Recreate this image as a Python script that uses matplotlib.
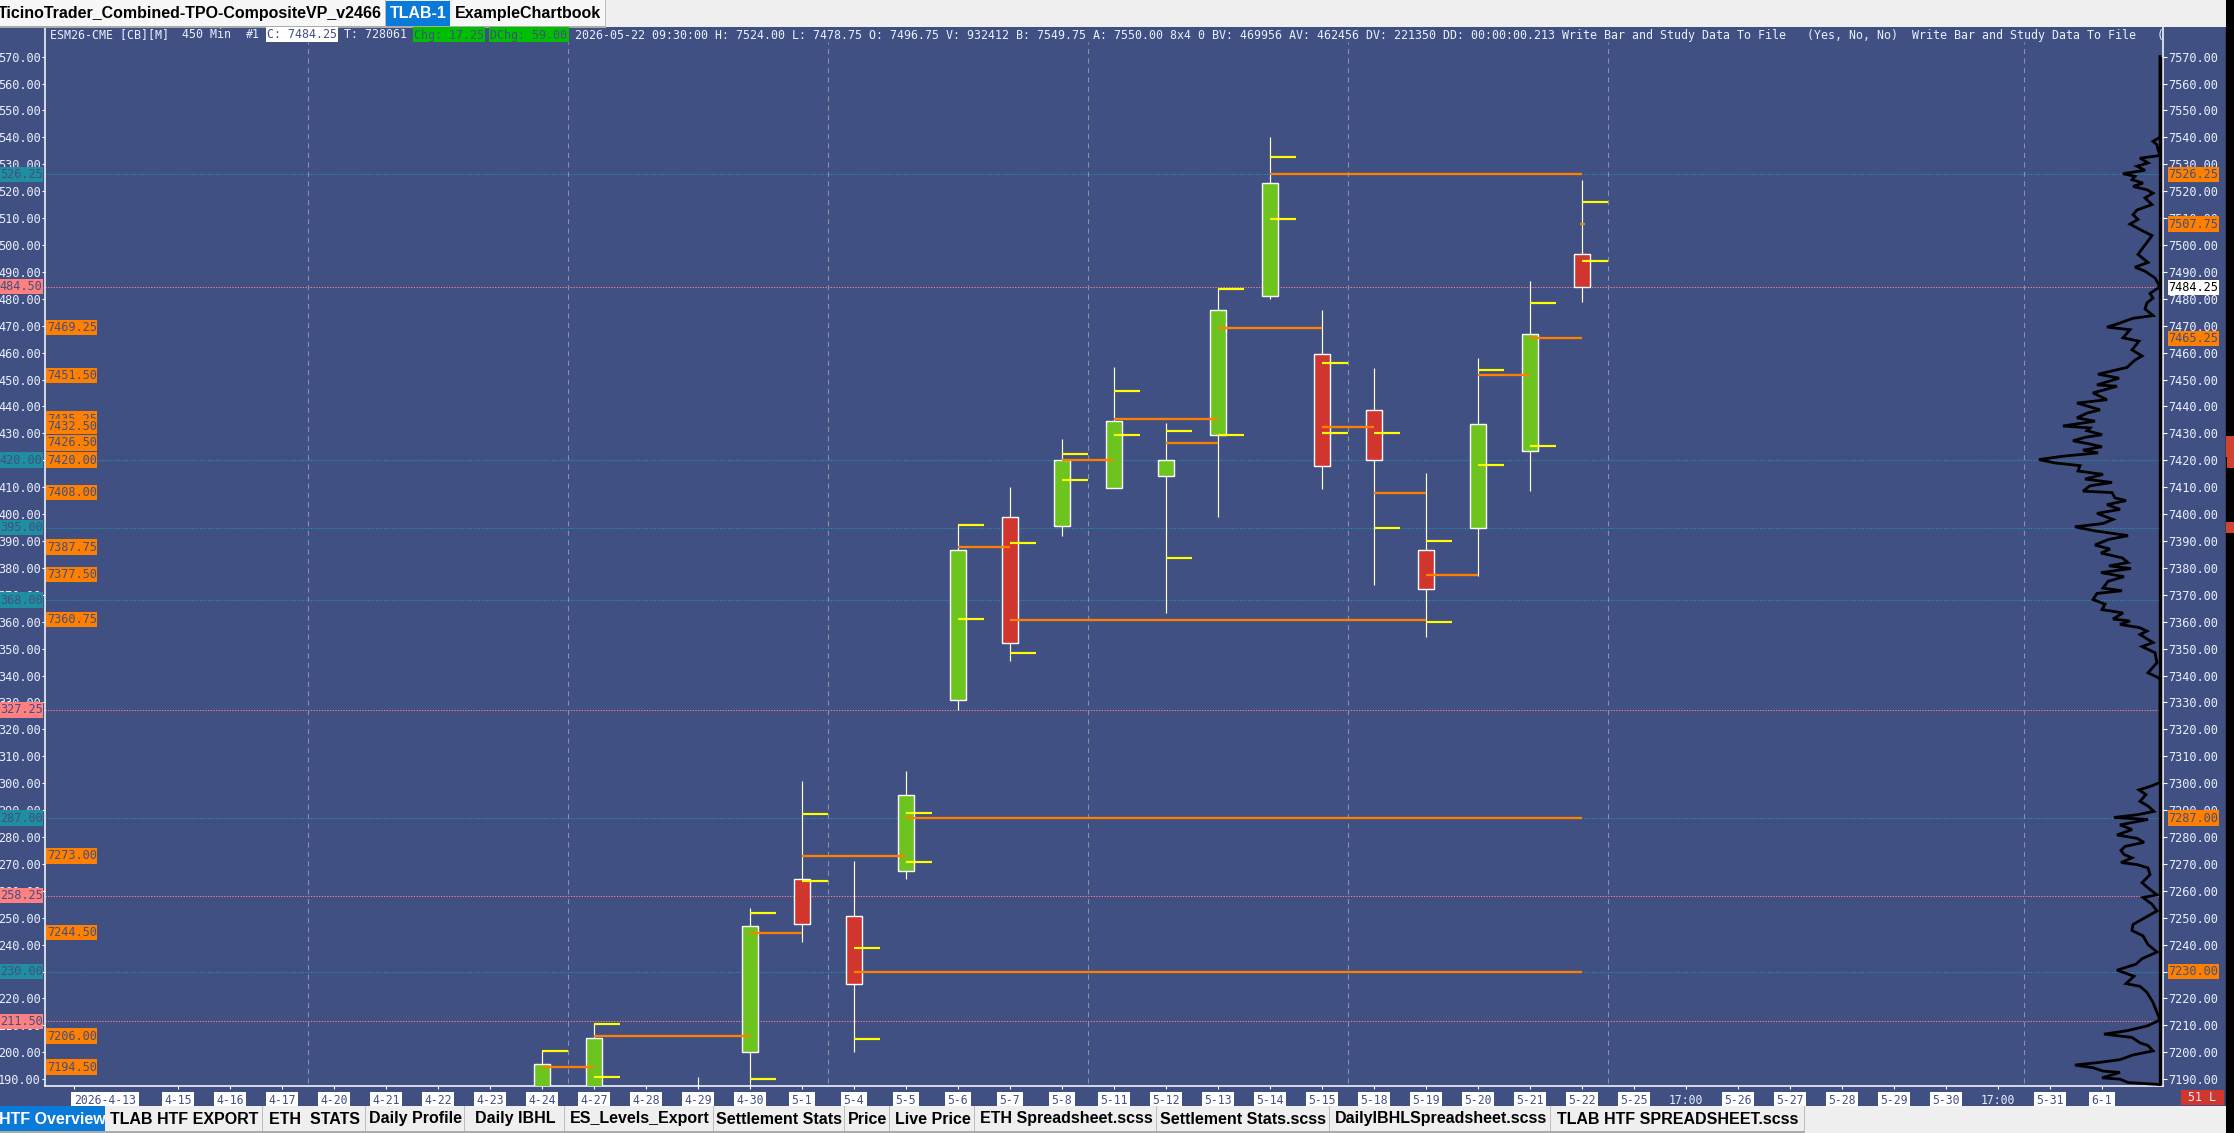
import matplotlib
matplotlib.use("Agg")
import matplotlib.pyplot as plt
from matplotlib.patches import Rectangle

W, H = 2234, 1133
BG = "#415082"; GREEN = "#6DC41E"; RED = "#D0362E"; ORANGE = "#FF7F00"; YELLOW = "#FFFF00"
TEAL = "#1F8FA0"; SALMON = "#FF8080"; TXT = "#EAF0FF"; TABGRAY = "#EFEFEF"; BLUE = "#0A7AD8"
MONO = "DejaVu Sans Mono"; UI = "Liberation Sans"

# ---- data ----
x_labels = ["2026-4-13", "", "4-15", "4-16", "4-17", "4-20", "4-21", "4-22", "4-23", "4-24", "4-27", "4-28",
            "4-29", "4-30", "5-1", "5-4", "5-5", "5-6", "5-7", "5-8", "5-11", "5-12", "5-13", "5-14", "5-15",
            "5-18", "5-19", "5-20", "5-21", "5-22", "5-25", "17:00", "5-26", "5-27", "5-28", "5-29", "5-30",
            "17:00", "5-31", "6-1"]
y_ticks = list(range(7190, 7571, 10))

candle_x = [9, 10, 12, 13, 14, 15, 16, 17, 18, 19, 20, 21, 22, 23, 24, 25, 26, 27, 28, 29]
c_open = [7180, 7180, 7180, 7200, 7264.5, 7250.5, 7267.5, 7330.75, 7399, 7395.75, 7409.75, 7414, 7429.25,
          7481, 7459.5, 7438.5, 7386.5, 7395, 7423.5, 7496.75]
c_close = [7195.5, 7205.25, 7182, 7246.75, 7247.75, 7225.25, 7295.5, 7386.5, 7352.25, 7420.25, 7434.75,
           7420.25, 7476, 7523, 7418, 7420.25, 7372.25, 7433.5, 7466.75, 7484.25]
c_high = [7200.5, 7211, 7190.75, 7253.5, 7300.75, 7271, 7304.5, 7396.25, 7410, 7428, 7454.5, 7433.75, 7484,
          7540, 7475.75, 7454.25, 7415.25, 7458, 7486.5, 7524]
c_low = [7175, 7175, 7175, 7175, 7241, 7200, 7264.5, 7327.25, 7345.5, 7391.75, 7409.75, 7363.25, 7399, 7480,
         7409.25, 7373.5, 7354.25, 7377, 7408.75, 7478.75]

yellow_x = [9, 10, 10, 13, 13, 14, 14, 15, 15, 16, 16, 17, 17, 18, 18, 19, 19, 20, 20, 21, 21, 22, 22, 23, 23,
            24, 24, 25, 25, 26, 26, 27, 27, 28, 28, 29, 29]
yellow_p = [7200.5, 7210.5, 7190.75, 7251.75, 7190, 7288.5, 7263.5, 7238.75, 7205, 7289, 7270.75, 7396, 7361,
            7389.25, 7348.5, 7422.25, 7412.75, 7445.75, 7429.5, 7430.75, 7383.75, 7483.75, 7429.5, 7532.75,
            7509.5, 7456.25, 7430, 7430, 7394.75, 7390, 7360, 7453.5, 7418.25, 7478.5, 7425.25, 7516, 7494]

poc_start = [9, 10, 13, 14, 15, 16, 17, 18, 19, 20, 21, 22, 23, 24, 25, 26, 27, 28, 28.97]
poc_end = [10, 13, 14, 16, 29, 29, 18, 26, 20, 22, 22, 24, 29, 25, 26, 27, 28, 29, 29.05]
poc_price = [7194.5, 7206, 7244.5, 7273, 7230, 7287, 7387.75, 7360.75, 7420, 7435.25, 7426.5, 7469.25, 7526.25,
             7432.5, 7408, 7377.5, 7451.5, 7465.25, 7507.75]

teal_levels = [7526.25, 7420.00, 7395.00, 7368.00, 7287.00, 7230.00]
salmon_levels = [7484.50, 7327.25, 7258.25, 7211.50]
left_orange = [7469.25, 7451.50, 7435.25, 7432.50, 7426.50, 7420.00, 7408.00, 7387.75, 7377.50, 7360.75,
               7273.00, 7244.50, 7206.00, 7194.50]
right_orange = [7526.25, 7507.75, 7465.25, 7287.00, 7230.00]
last_price = 7484.25
week_seps = [4.5, 9.5, 14.5, 19.5, 24.5, 29.5, 37.5]

profile_price = [7570, 7540, 7538.5, 7537.25, 7535.5, 7533.25, 7532.25, 7530.5, 7529.25, 7527.75, 7526.5, 7525.5,
                 7524.25, 7523, 7521.75, 7520.5, 7519.25, 7517.5, 7515, 7513, 7511.25, 7509.5, 7507.75, 7505.75,
                 7503.5, 7500, 7496.5, 7493.5, 7491.75, 7490.25, 7487.75, 7484.5, 7482, 7480.25, 7478.5, 7476.25,
                 7473.75, 7472.75, 7470.75, 7469.5, 7468.5, 7465.5, 7464.25, 7461, 7458.75, 7457.25, 7454.5, 7453,
                 7452, 7450.5, 7448, 7447.5, 7445, 7442.5, 7441.25, 7438.75, 7437.5, 7435.75, 7434.5, 7432.75, 7432,
                 7431, 7429.5, 7428.5, 7427.25, 7426, 7425, 7423.75, 7422.75, 7421.5, 7420.25, 7419, 7418, 7416,
                 7414.75, 7413, 7411.75, 7410.5, 7408.5, 7408, 7406, 7405, 7403.5, 7401.75, 7400.25, 7398, 7396.5,
                 7395.25, 7393.75, 7392, 7390.5, 7388.5, 7387, 7385.5, 7383.75, 7382, 7380.75, 7379.75, 7378.25,
                 7376.75, 7375, 7372.5, 7371.5, 7370.5, 7368.25, 7366.5, 7364.5, 7363.25, 7361, 7360.25, 7359,
                 7357.75, 7356.5, 7355.25, 7352.25, 7350.75, 7348.5, 7344.75, 7341, 7339.25, 7338.5, 7300.25,
                 7298.75, 7297.5, 7295.75, 7293.25, 7291.5, 7289.5, 7288.25, 7287.25, 7286.5, 7284.5, 7282.75,
                 7280.75, 7279.5, 7278, 7276.5, 7275, 7273.5, 7272.25, 7270.5, 7269.75, 7268.5, 7266, 7263, 7260.5,
                 7258.5, 7257.5, 7255, 7252.5, 7250, 7247.5, 7245.25, 7243.25, 7240, 7237.25, 7234.75, 7232.75,
                 7230.5, 7228.25, 7225.5, 7224.5, 7222.25, 7218.5, 7214.75, 7212, 7209.75, 7208, 7206.75, 7205.5,
                 7203.5, 7202.5, 7200.5, 7199, 7197.25, 7196.25, 7195.25, 7194.25, 7193, 7192.5, 7190.5, 7190, 7188.75,
                 7188]
profile_vol = [0, 0, 7, 3, 2, 0, 20, 12, 23, 15, 37, 25, 28, 17, 27, 13, 7, 15, 8, 23, 27, 22, 30, 20, 8, 15, 22,
               12, 25, 15, 5, 0, 10, 7, 13, 15, 7, 27, 42, 53, 30, 37, 21, 28, 18, 25, 33, 50, 62, 41, 63, 43, 67,
               53, 83, 60, 73, 83, 65, 97, 70, 73, 58, 75, 87, 70, 58, 77, 62, 97, 121, 105, 80, 82, 57, 75, 48, 70,
               77, 48, 45, 34, 53, 40, 63, 47, 57, 85, 65, 32, 52, 65, 50, 59, 38, 32, 51, 29, 59, 36, 52, 57, 38,
               63, 67, 55, 58, 37, 47, 30, 40, 20, 13, 20, 7, 18, 5, 3, 12, 2, 0, 0, 10, 21, 14, 20, 12, 6, 23, 46,
               12, 40, 28, 43, 23, 16, 35, 39, 36, 28, 39, 23, 12, 10, 18, 10, 3, 17, 8, 3, 15, 27, 28, 17, 12, 3,
               18, 24, 43, 26, 34, 20, 13, 7, 3, 0, 13, 33, 56, 28, 20, 12, 7, 27, 40, 60, 85, 67, 57, 40, 58, 40,
               32, 0]

top_tabs = ["TicinoTrader_Combined-TPO-CompositeVP_v2466", "TLAB-1", "ExampleChartbook"]
bottom_tabs = ["HTF Overview", "TLAB HTF EXPORT", "ETH  STATS", "Daily Profile", "Daily IBHL", "ES_Levels_Export",
               "Settlement Stats", "Price", "Live Price", "ETH Spreadsheet.scss", "Settlement Stats.scss",
               "DailyIBHLSpreadsheet.scss", "TLAB HTF SPREADSHEET.scss"]
bottom_edges = [0, 105, 263, 366, 465, 565, 714, 845, 890, 975, 1157, 1330, 1551, 1805]

# ---- layout ----
fig = plt.figure(figsize=(W / 100, H / 100), dpi=100, facecolor=BG)
AX_L, AX_R, AX_T, AX_B = 45, 2163, 27, 1086
rect = [AX_L / W, (H - AX_B) / H, (AX_R - AX_L) / W, (AX_B - AX_T) / H]
ax = fig.add_axes(rect, facecolor=BG)
YLIM = (7187.46, 7581.0)
XLIM = ((AX_L - 74) / 52, (AX_R - 74) / 52)
ax.set_xlim(XLIM); ax.set_ylim(YLIM)
fx = lambda px: (px - AX_L) / (AX_R - AX_L)
PX_PER_PT = (AX_B - AX_T) / (YLIM[1] - YLIM[0])

ax.spines["top"].set_visible(False)
for s in ("left", "bottom", "right"):
    ax.spines[s].set_color("white"); ax.spines[s].set_linewidth(1.1)

ax.set_yticks(y_ticks)
ax.set_yticklabels([f"{v:.2f}"[1:] for v in y_ticks], family=MONO, fontsize=8.55, color=TXT)
ax.tick_params(axis="y", length=2.3, width=0.8, color="white", pad=0.8)
tick_idx = [i for i, s in enumerate(x_labels) if s]
ax.set_xticks(tick_idx)
ax.set_xticklabels([x_labels[i] for i in tick_idx], family=MONO, fontsize=8.3)
ax.tick_params(axis="x", length=2.3, width=0.8, color="white", pad=3.6)
for i, lab in zip(tick_idx, ax.get_xticklabels()):
    if lab.get_text() == "17:00":
        lab.set_color(TXT)
    else:
        lab.set_color(BG)
        lab.set_bbox(dict(facecolor="white", edgecolor="none", pad=1.9))
    if i == 0:
        lab.set_ha("left")

# reference levels and session separators
dots = (0, (1.2, 1.4))
for v in teal_levels:
    ax.plot([XLIM[0], (2160 - 74) / 52], [v, v], color="#1B9AA8", lw=0.75, ls=dots, zorder=1)
for v in salmon_levels:
    ax.plot([XLIM[0], (2160 - 74) / 52], [v, v], color=SALMON, lw=0.75, ls=dots, zorder=1)
ax.vlines(week_seps, 7188.6, 7575.4, color="#8A90A8", lw=0.8, linestyles=(0, (4.5, 4)), zorder=1)

# candles
for x, o, c, hi, lo in zip(candle_x, c_open, c_close, c_high, c_low):
    ax.vlines(x, lo, hi, color="white", lw=0.85, zorder=2)
    ax.bar(x, abs(c - o), bottom=min(o, c), width=0.31, color=GREEN if c >= o else RED,
           edgecolor="white", linewidth=1.0, zorder=3)
ax.hlines(yellow_p, yellow_x, [v + 0.5 for v in yellow_x], color=YELLOW, lw=1.55, zorder=4)
ax.hlines(poc_price, poc_start, poc_end, color=ORANGE, lw=1.65, zorder=4.5)

# price tags: a 15-pixel-high box with the value inside
def tag(axis, x0_px, x1_px, price, text, fc, color, tx_px, ha="left", z=20):
    h = 15.5 / PX_PER_PT
    axis.add_patch(Rectangle((fx(x0_px), price - h / 2), fx(x1_px) - fx(x0_px), h, facecolor=fc, edgecolor="none",
                             transform=axis.get_yaxis_transform(), clip_on=False, zorder=z))
    axis.text(fx(tx_px), price, text, transform=axis.get_yaxis_transform(), family=MONO, fontsize=8.55, color=color,
              ha=ha, va="center", clip_on=False, zorder=z)

for v in left_orange:
    tag(ax, 46, 97, v, f"{v:.2f}", ORANGE, BG, 46.8)
for v in teal_levels:
    tag(ax, 0, 43, v, f"{v:.2f}"[1:], TEAL, BG, 42.6, ha="right")
for v in salmon_levels:
    tag(ax, 0, 43, v, f"{v:.2f}"[1:], SALMON, BG, 42.6, ha="right")

# volume profile + right scale
axp = fig.add_axes(rect, facecolor="none")
axp.set_ylim(YLIM)
axp.set_xlim(2160 - AX_L, 2160 - AX_R)
axp.xaxis.set_visible(False)
for sp in axp.spines.values():
    sp.set_visible(False)
axp.yaxis.tick_right()
axp.set_yticks(y_ticks)
axp.set_yticklabels([f"{v:.2f}" for v in y_ticks], family=MONO, fontsize=8.55, color=TXT)
axp.tick_params(axis="y", length=2.6, width=0.8, color="white", pad=1.2, left=False, right=True)
axp.plot([0, 0], [7570, 7188], color="black", lw=2.4, solid_capstyle="butt", zorder=2)
axp.plot(profile_vol, profile_price, color="black", lw=2.0, solid_joinstyle="miter", zorder=2)
for v in right_orange:
    tag(axp, 2167.5, 2218.5, v, f"{v:.2f}", ORANGE, BG, 2168.2)
tag(axp, 2167.5, 2218.5, last_price, f"{last_price:.2f}", "white", "black", 2168.2, z=21)

# window chrome in pixel coordinates
ui = fig.add_axes([0, 0, 1, 1], facecolor="none", zorder=30)
ui.set_xlim(0, W); ui.set_ylim(H, 0); ui.axis("off")

def box(x0, y0, x1, y1, fc, z=1):
    ui.add_patch(Rectangle((x0, y0), x1 - x0, y1 - y0, facecolor=fc, edgecolor="none", zorder=z))

box(0, 0, 2226, 27, TABGRAY)
box(0, 26, 606, 28, "#ABABAB", 2)
box(0, 0, 385, 26, "#F7F7F7", 2)
box(452, 0, 605, 26, "#F7F7F7", 2)
box(385, 0, 386, 27, "#BDBDBD", 2); box(605, 0, 606, 27, "#BDBDBD", 2)
box(386, 1, 450, 26, BLUE, 3)
for txt, xc, col in zip(top_tabs, [190, 418, 528.5], ["black", "white", "black"]):
    ui.text(xc, 13.5, txt, family=UI, weight="bold", fontsize=11.5, color=col, ha="center", va="center", zorder=5)

box(0, 1106, 2226, H, TABGRAY)
box(0, 1131, 1805, 1133, "#ABABAB", 2)
for i, txt in enumerate(bottom_tabs):
    x0, x1 = bottom_edges[i], bottom_edges[i + 1]
    if i == 0:
        box(x0, 1106, x1, 1131, BLUE, 3)
    else:
        box(x1 - 1, 1106, x1, 1131, "#BDBDBD", 3)
    ui.text((x0 + x1) / 2, 1119, txt, family=UI, weight="bold", fontsize=11.5,
            color="white" if i == 0 else "black", ha="center", va="center", zorder=5)

box(2226, 0, W, H, "black", 4)
box(2225, 27, 2226, 1106, "#3A3F55", 4)
box(2226, 436, W, 457, "#D0432E", 5); box(2227, 457, W, 468, "#D0432E", 5); box(2226, 522, W, 533, "#D0432E", 5)
box(2181, 1090, 2224, 1105, RED, 5)
ui.text(2202.5, 1097.5, "51 L", family=MONO, fontsize=8.4, color=TXT, ha="center", va="center", zorder=6)

# header line
HY = 35
hdr = dict(family=MONO, fontsize=8.35, va="center", zorder=6)
ui.text(50, HY, "ESM26-CME [CB][M]", color=TXT, ha="left", **hdr)
ui.text(182, HY, "450 Min", color=TXT, ha="left", **hdr)
ui.text(246, HY, "#1", color=TXT, ha="left", **hdr)
box(266, 27, 338, 42, "white", 5)
ui.text(267, HY, "C: 7484.25", color=BG, ha="left", **hdr)
ui.text(344, HY, "T: 728061", color=TXT, ha="left", **hdr)
box(413, 27, 485, 42, "#00BE00", 5)
ui.text(414, HY, "Chg: 17.25", color=BG, ha="left", **hdr)
box(489, 27, 569, 42, "#00BE00", 5)
ui.text(490, HY, "DChg: 59.00", color=BG, ha="left", **hdr)
ui.text(575, HY, "2026-05-22 09:30:00 H: 7524.00 L: 7478.75 O: 7496.75 V: 932412 B: 7549.75 A: 7550.00 8x4 0 "
        "BV: 469956 AV: 462456 DV: 221350 DD: 00:00:00.213 Write Bar and Study Data To File   (Yes, No, No)  "
        "Write Bar and Study Data To File   (", color=TXT, ha="left", **hdr)

fig.savefig("out.png", dpi=100, facecolor=BG)
